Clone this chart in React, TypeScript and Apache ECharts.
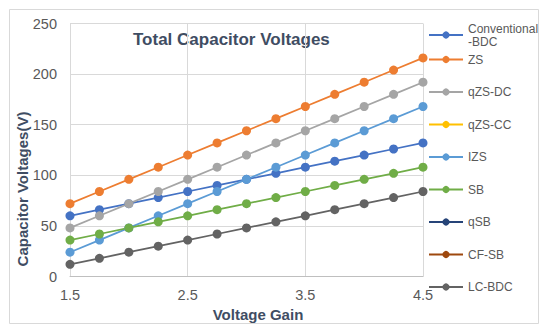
import React, { useEffect, useRef } from "react";
import * as echarts from "echarts";

const gains = [1.5, 1.75, 2, 2.25, 2.5, 2.75, 3, 3.25, 3.5, 3.75, 4, 4.25, 4.5];
const conventionalBDC = [60, 66, 72, 78, 84, 90, 96, 102, 108, 114, 120, 126, 132];
const zs = [72, 84, 96, 108, 120, 132, 144, 156, 168, 180, 192, 204, 216];
const qzsDC = [48, 60, 72, 84, 96, 108, 120, 132, 144, 156, 168, 180, 192];
const qzsCC: number[] = [];
const izs = [24, 36, 48, 60, 72, 84, 96, 108, 120, 132, 144, 156, 168];
const sb = [36, 42, 48, 54, 60, 66, 72, 78, 84, 90, 96, 102, 108];
const qsb: number[] = [];
const cfsb: number[] = [];
const lcBDC = [12, 18, 24, 30, 36, 42, 48, 54, 60, 66, 72, 78, 84];

const seriesNames = ["Conventional-BDC", "ZS", "qZS-DC", "qZS-CC", "IZS", "SB", "qSB", "CF-SB", "LC-BDC"];
const seriesValues = [conventionalBDC, zs, qzsDC, qzsCC, izs, sb, qsb, cfsb, lcBDC];
const colors = ["#4472C4", "#ED7D31", "#A5A5A5", "#FFC000", "#5B9BD5", "#70AD47", "#264478", "#9E480E", "#636363"];

const xTicks = [1.5, 2.5, 3.5, 4.5];
const yTicks = [0, 50, 100, 150, 200, 250];

export default function App() {
  const ref = useRef<HTMLDivElement>(null);
  useEffect(() => {
    if (!ref.current) return;
    const chart = echarts.init(ref.current, null, { renderer: "svg" });
    const font = "Arial, 'Liberation Sans', sans-serif";
    const titleColor = "#3F4D63";
    chart.setOption({
      animation: false,
      backgroundColor: "#ffffff",
      grid: { left: 70, right: 127, top: 23.5, bottom: 56.5, containLabel: false },
      xAxis: {
        type: "value",
        min: xTicks[0],
        max: xTicks[xTicks.length - 1],
        interval: 1,
        axisLine: { show: true, lineStyle: { color: "#BFBFBF", width: 1 } },
        axisTick: { show: false },
        axisLabel: { color: "#595959", fontSize: 14.5, fontFamily: font, margin: 11, formatter: (v: number) => v.toFixed(1) },
        splitLine: { show: true, lineStyle: { color: "#D9D9D9", width: 1 } },
      },
      yAxis: {
        type: "value",
        min: yTicks[0],
        max: yTicks[yTicks.length - 1],
        interval: 50,
        axisLine: { show: false },
        axisTick: { show: false },
        axisLabel: { color: "#595959", fontSize: 14.5, fontFamily: font, margin: 13 },
        splitLine: { show: true, lineStyle: { color: "#D9D9D9", width: 1 } },
      },
      legend: [
        {
          data: [seriesNames[0]],
          orient: "vertical",
          left: 428,
          top: 15.5,
          padding: 0,
          itemWidth: 34,
          itemHeight: 9,
          formatter: () => "Conventional\n-BDC",
          textStyle: { color: "#595959", fontSize: 12, fontFamily: font, lineHeight: 13, padding: [13, 0, 0, 0] },
        },
        {
          data: seriesNames.slice(1),
          orient: "vertical",
          left: 428,
          top: 52.5,
          padding: 0,
          itemGap: 18.5,
          itemWidth: 34,
          itemHeight: 9,
          textStyle: { color: "#595959", fontSize: 12, fontFamily: font, lineHeight: 14 },
        },
      ],
      graphic: [
        {
          type: "rect",
          shape: { x: 9.5, y: 9.5, width: 529, height: 314 },
          style: { fill: "none", stroke: "#D9D9D9", lineWidth: 1 },
          silent: true,
          z: -1,
        },
        {
          type: "text",
          x: 133,
          y: 39,
          style: { text: "Total Capacitor Voltages", font: `bold 17px ${font}`, fill: titleColor, verticalAlign: "middle", align: "left" },
        },
        {
          type: "text",
          x: 258,
          y: 314,
          style: { text: "Voltage Gain", font: `bold 15px ${font}`, fill: titleColor, verticalAlign: "middle", align: "center" },
        },
        {
          type: "text",
          x: 22,
          y: 189,
          rotation: Math.PI / 2,
          style: { text: "Capacitor Voltages(V)", font: `bold 15px ${font}`, fill: titleColor, verticalAlign: "middle", align: "center" },
        },
      ],
      series: seriesNames.map((name, i) => ({
        name,
        type: "line",
        data: seriesValues[i].map((v, j) => [gains[j], v]),
        symbol: "circle",
        symbolSize: 9,
        color: colors[i],
        lineStyle: { width: 1.75, color: colors[i] },
        itemStyle: { color: colors[i] },
      })),
    });
    return () => chart.dispose();
  }, []);
  return <div ref={ref} style={{ position: "fixed", left: 0, top: 0, width: 550, height: 333 }} />;
}
